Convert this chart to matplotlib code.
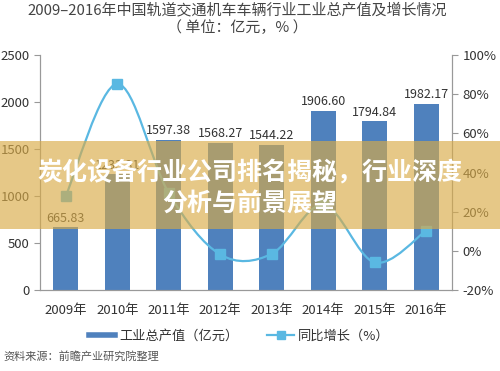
import matplotlib.pyplot as plt
import numpy as np
from matplotlib.lines import Line2D
from matplotlib.patches import PathPatch, Rectangle
from matplotlib.path import Path

plt.rcParams["font.family"] = ["Noto Sans CJK SC", "DejaVu Sans"]

years = ["2009年", "2010年", "2011年", "2012年", "2013年", "2014年", "2015年", "2016年"]
output_value = [665.83, 1233.31, 1597.38, 1568.27, 1544.22, 1906.60, 1794.84, 1982.17]
growth_pct = [28.0, 85.2, 29.5, -1.8, -1.5, 23.5, -5.9, 10.4]
left_ticks = [0, 500, 1000, 1500, 2000, 2500]
right_ticks = [-20, 0, 20, 40, 60, 80, 100]

BAR = "#4f81bd"
LINE = "#5ab8e2"
TXT = "#333333"
SPINE = "#999999"


def smooth_path(xs, ys, t=1 / 6):
    # catmull-rom -> cubic bezier through the data points
    pts = np.column_stack([xs, ys])
    verts = [pts[0]]
    codes = [Path.MOVETO]
    n = len(pts)
    for i in range(n - 1):
        p0 = pts[i - 1] if i > 0 else pts[i]
        p1, p2 = pts[i], pts[i + 1]
        p3 = pts[i + 2] if i + 2 < n else pts[i + 1]
        c1 = p1 + (p2 - p0) * t
        c2 = p2 - (p3 - p1) * t
        verts += [c1, c2, p2]
        codes += [Path.CURVE4] * 3
    return Path(verts, codes)


fig = plt.figure(figsize=(5, 3.71), dpi=100)
ax = fig.add_axes([0.08, 0.218, 0.824, 0.634])
ax2 = ax.twinx()

x = np.arange(len(years))
ax.bar(x, output_value, width=0.49, color=BAR, zorder=2)
for xi, v in zip(x, output_value):
    ax.text(xi, v + 25, f"{v:.2f}", ha="center", va="bottom", fontsize=9, color=TXT)

ax.set_xlim(-0.5, len(years) - 0.5)
ax.set_ylim(0, 2500)
ax.set_yticks(left_ticks)
ax.set_yticklabels([str(t) for t in left_ticks])
ax.set_xticks(x)
ax.set_xticklabels(years)

ax2.set_ylim(-20, 100)
ax2.set_yticks(right_ticks)
ax2.set_yticklabels([f"{t}%" for t in right_ticks])

path = smooth_path(x, growth_pct)
ax2.add_patch(PathPatch(path, facecolor="none", edgecolor=LINE, lw=1.6, zorder=3))
ax2.plot(x, growth_pct, ls="none", marker="s", ms=7, color=LINE, zorder=4)

for a in (ax, ax2):
    a.spines["top"].set_visible(False)
    for s in ("left", "right", "bottom"):
        a.spines[s].set_color(SPINE)
        a.spines[s].set_linewidth(0.8)
    a.tick_params(axis="y", colors=SPINE, labelcolor=TXT, labelsize=9.5, length=4, width=0.8)
ax.tick_params(axis="x", length=0, labelsize=9.5, labelcolor=TXT, pad=10)

fig.text(0.475, 1 - 10 / 371, "2009–2016年中国轨道交通机车车辆行业工业总产值及增长情况",
         ha="center", va="center", fontsize=10.8, color="#444444")
fig.text(0.475, 1 - 28 / 371, "（ 单位：亿元，% ）", ha="center", va="center",
         fontsize=10.8, color="#444444")

handles = [Line2D([], [], color=BAR, lw=4),
           Line2D([], [], color=LINE, lw=1.6, marker="s", ms=6)]
fig.legend(handles, ["工业总产值（亿元）", "同比增长（%）"], loc="center",
           bbox_to_anchor=(0.478, 1 - 336 / 371), ncol=2, frameon=False,
           fontsize=9.5, handlelength=2.0, handletextpad=0.3, columnspacing=2.2,
           labelcolor=TXT)

fig.text(0.006, 1 - 356 / 371, "资料来源：前瞻产业研究院整理", ha="left", va="center",
         fontsize=8, color="#555555")

# banner overlay
fig.patches.append(Rectangle((0, 1 - 229 / 371), 1, 88 / 371, transform=fig.transFigure,
                             facecolor="#d9ab47", alpha=0.65, edgecolor="none", zorder=10))
fig.text(0.5, 1 - 172 / 371, "炭化设备行业公司排名揭秘，行业深度", ha="center", va="center",
         fontsize=18, fontweight="bold", color="white", zorder=11)
fig.text(0.5, 1 - 205 / 371, "分析与前景展望", ha="center", va="center",
         fontsize=18, fontweight="bold", color="white", zorder=11)

fig.savefig("out.png", dpi=100)
